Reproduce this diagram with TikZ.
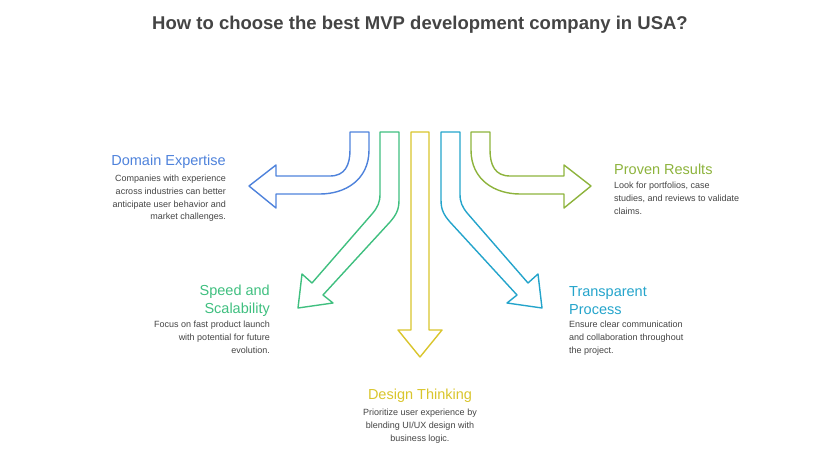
\documentclass[tikz,border=0pt]{standalone}
\usepackage{fontspec}
\setmainfont{Liberation Sans}
\definecolor{cblue}{HTML}{4E82DB}
\definecolor{cgreen}{HTML}{3FBF7F}
\definecolor{cyellow}{HTML}{D9C52C}
\definecolor{cteal}{HTML}{24A4CB}
\definecolor{colive}{HTML}{8DB33C}
\definecolor{ctext}{HTML}{444444}
\begin{document}
\begin{tikzpicture}[x=1pt,y=-1pt,
  arr/.style={line width=1.4pt,line join=round},
  head/.style={font=\fontsize{14.5}{18}\selectfont,inner sep=0pt},
  desc/.style={font=\fontsize{9}{12.7}\selectfont,text=ctext,inner sep=0pt}]
\useasboundingbox (0,0) rectangle (828,466);
\node[font=\bfseries\fontsize{18.5}{20}\selectfont,text=ctext] (title) at (420,25) {How to choose the best MVP development company in USA?};
% blue
\draw[arr,cblue] (350,132)--(369,132)--(369,150) .. controls (369,180) and (345,194) .. (320,194)--(276,194)--(276,208)--(249,186)--(276,165)--(276,176)--(330,176) .. controls (345,176) and (350,165) .. (350,150)--cycle;
% olive
\draw[arr,colive] (490,132)--(471,132)--(471,150) .. controls (471,180) and (495,194) .. (520,194)--(564,194)--(564,208)--(591,186)--(564,165)--(564,176)--(510,176) .. controls (495,176) and (490,165) .. (490,150)--cycle;
% green
\draw[arr,cgreen] (380,132)--(399,132)--(399,200) .. controls (399,210) and (396,215) .. (390,222)--(323,295)--(333,303)--(298,308)--(302,274)--(312,283)--(372,214) .. controls (378,207) and (380,202) .. (380,194)--cycle;
% teal
\draw[arr,cteal] (460,132)--(441,132)--(441,200) .. controls (441,210) and (444,215) .. (450,222)--(517,295)--(507,303)--(542,308)--(538,274)--(528,283)--(468,214) .. controls (462,207) and (460,202) .. (460,194)--cycle;
% yellow
\draw[arr,cyellow] (411,132)--(429,132)--(429,330)--(442,330)--(420,357)--(398,330)--(411,330)--cycle;
% texts
\node[head,text=cblue,anchor=east] (h1) at (226,162) {Domain Expertise};
\node[desc,anchor=north east,align=right] (d1) at (226,175) {Companies with experience\\across industries can better\\anticipate user behavior and\\market challenges.};
\node[head,text=colive,anchor=west] (h2) at (614,169) {Proven Results};
\node[desc,anchor=north west,align=left] (d2) at (614,182) {Look for portfolios, case\\studies, and reviews to validate\\claims.};
\node[head,text=cgreen,anchor=east,align=right,font=\fontsize{14.5}{18}\selectfont] (h3) at (270,301) {Speed and\\Scalability};
\node[desc,anchor=north east,align=right] (d3) at (270,321) {Focus on fast product launch\\with potential for future\\evolution.};
\node[head,text=cteal,anchor=west,align=left,font=\fontsize{14.5}{18}\selectfont] (h4) at (569,301) {Transparent\\Process};
\node[desc,anchor=north west,align=left] (d4) at (569,321) {Ensure clear communication\\and collaboration throughout\\the project.};
\node[head,text=cyellow] (h5) at (420,396) {Design Thinking};
\node[desc,anchor=north,align=center] (d5) at (420,409) {Prioritize user experience by\\blending UI/UX design with\\business logic.};
\end{tikzpicture}
\end{document}
